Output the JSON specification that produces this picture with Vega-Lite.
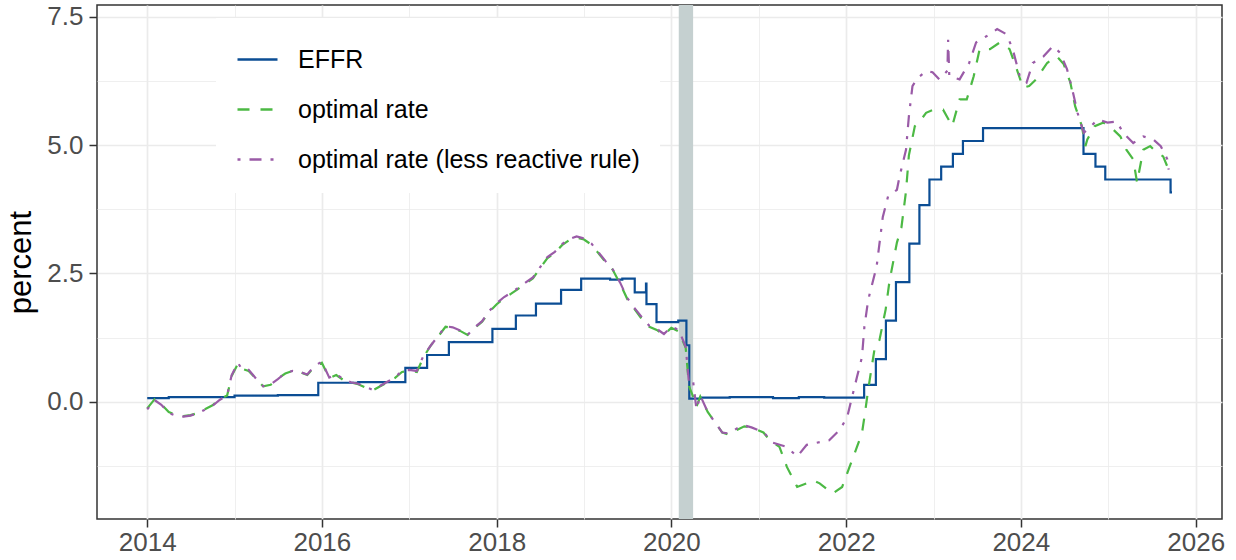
{
  "$schema": "https://vega.github.io/schema/vega-lite/v6.json",
  "width": 1125,
  "height": 514,
  "autosize": {"type": "none"},
  "padding": {"left": 97, "top": 5, "right": 14, "bottom": 41},
  "background": "white",
  "config": {
    "font": "Liberation Sans",
    "view": {"stroke": "#333333", "strokeWidth": 1.5},
    "axis": {
      "domain": false,
      "grid": true,
      "gridColor": "#EBEBEB",
      "tickColor": "#333333",
      "tickWidth": 1.5,
      "tickSize": 8,
      "labelFont": "Liberation Sans",
      "labelFontSize": 26,
      "labelColor": "#4D4D4D",
      "labelOverlap": false,
      "labelBound": false,
      "labelFlush": false
    }
  },
  "datasets": {
    "effr": [
      {"date": "2014-01-01", "series": "EFFR", "value": 0.07},
      {"date": "2014-04-01", "series": "EFFR", "value": 0.09},
      {"date": "2014-10-01", "series": "EFFR", "value": 0.09},
      {"date": "2015-01-01", "series": "EFFR", "value": 0.12},
      {"date": "2015-07-01", "series": "EFFR", "value": 0.13},
      {"date": "2015-12-17", "series": "EFFR", "value": 0.37},
      {"date": "2016-06-01", "series": "EFFR", "value": 0.38},
      {"date": "2016-12-15", "series": "EFFR", "value": 0.66},
      {"date": "2017-03-16", "series": "EFFR", "value": 0.91},
      {"date": "2017-06-15", "series": "EFFR", "value": 1.16},
      {"date": "2017-12-14", "series": "EFFR", "value": 1.42},
      {"date": "2018-03-22", "series": "EFFR", "value": 1.68},
      {"date": "2018-06-14", "series": "EFFR", "value": 1.91},
      {"date": "2018-09-27", "series": "EFFR", "value": 2.18},
      {"date": "2018-12-20", "series": "EFFR", "value": 2.40},
      {"date": "2019-04-20", "series": "EFFR", "value": 2.38},
      {"date": "2019-06-10", "series": "EFFR", "value": 2.40},
      {"date": "2019-08-01", "series": "EFFR", "value": 2.13},
      {"date": "2019-09-17", "series": "EFFR", "value": 2.30},
      {"date": "2019-09-19", "series": "EFFR", "value": 1.90},
      {"date": "2019-10-31", "series": "EFFR", "value": 1.55},
      {"date": "2020-01-30", "series": "EFFR", "value": 1.58},
      {"date": "2020-03-04", "series": "EFFR", "value": 1.10},
      {"date": "2020-03-16", "series": "EFFR", "value": 0.06},
      {"date": "2020-05-01", "series": "EFFR", "value": 0.08},
      {"date": "2020-09-01", "series": "EFFR", "value": 0.09},
      {"date": "2021-03-01", "series": "EFFR", "value": 0.07},
      {"date": "2021-06-17", "series": "EFFR", "value": 0.09},
      {"date": "2021-10-01", "series": "EFFR", "value": 0.08},
      {"date": "2022-03-17", "series": "EFFR", "value": 0.33},
      {"date": "2022-05-05", "series": "EFFR", "value": 0.83},
      {"date": "2022-06-16", "series": "EFFR", "value": 1.58},
      {"date": "2022-07-28", "series": "EFFR", "value": 2.33},
      {"date": "2022-09-22", "series": "EFFR", "value": 3.08},
      {"date": "2022-11-03", "series": "EFFR", "value": 3.83},
      {"date": "2022-12-15", "series": "EFFR", "value": 4.33},
      {"date": "2023-02-02", "series": "EFFR", "value": 4.58},
      {"date": "2023-03-23", "series": "EFFR", "value": 4.83},
      {"date": "2023-05-04", "series": "EFFR", "value": 5.08},
      {"date": "2023-07-27", "series": "EFFR", "value": 5.33},
      {"date": "2024-09-19", "series": "EFFR", "value": 4.83},
      {"date": "2024-11-08", "series": "EFFR", "value": 4.58},
      {"date": "2024-12-19", "series": "EFFR", "value": 4.33},
      {"date": "2025-09-18", "series": "EFFR", "value": 4.08},
      {"date": "2025-09-24", "series": "EFFR", "value": 4.08}
    ],
    "opt": [
      {"date": "2014-01-01", "series": "optimal rate", "value": -0.13},
      {"date": "2014-02-01", "series": "optimal rate", "value": 0.05},
      {"date": "2014-03-01", "series": "optimal rate", "value": -0.05},
      {"date": "2014-04-01", "series": "optimal rate", "value": -0.2},
      {"date": "2014-05-01", "series": "optimal rate", "value": -0.26},
      {"date": "2014-06-01", "series": "optimal rate", "value": -0.28},
      {"date": "2014-07-01", "series": "optimal rate", "value": -0.26},
      {"date": "2014-08-01", "series": "optimal rate", "value": -0.22},
      {"date": "2014-09-01", "series": "optimal rate", "value": -0.14},
      {"date": "2014-10-01", "series": "optimal rate", "value": -0.07},
      {"date": "2014-11-01", "series": "optimal rate", "value": 0.05},
      {"date": "2014-12-01", "series": "optimal rate", "value": 0.12},
      {"date": "2014-12-20", "series": "optimal rate", "value": 0.5},
      {"date": "2015-01-15", "series": "optimal rate", "value": 0.74},
      {"date": "2015-02-01", "series": "optimal rate", "value": 0.64},
      {"date": "2015-03-01", "series": "optimal rate", "value": 0.6},
      {"date": "2015-04-01", "series": "optimal rate", "value": 0.45},
      {"date": "2015-05-01", "series": "optimal rate", "value": 0.3},
      {"date": "2015-06-01", "series": "optimal rate", "value": 0.33},
      {"date": "2015-07-01", "series": "optimal rate", "value": 0.45},
      {"date": "2015-08-01", "series": "optimal rate", "value": 0.55},
      {"date": "2015-09-01", "series": "optimal rate", "value": 0.6},
      {"date": "2015-10-01", "series": "optimal rate", "value": 0.58},
      {"date": "2015-11-01", "series": "optimal rate", "value": 0.52},
      {"date": "2015-12-01", "series": "optimal rate", "value": 0.68},
      {"date": "2016-01-01", "series": "optimal rate", "value": 0.76},
      {"date": "2016-02-01", "series": "optimal rate", "value": 0.46},
      {"date": "2016-03-01", "series": "optimal rate", "value": 0.52},
      {"date": "2016-04-01", "series": "optimal rate", "value": 0.42},
      {"date": "2016-05-01", "series": "optimal rate", "value": 0.38},
      {"date": "2016-06-01", "series": "optimal rate", "value": 0.34},
      {"date": "2016-07-01", "series": "optimal rate", "value": 0.28},
      {"date": "2016-08-01", "series": "optimal rate", "value": 0.22},
      {"date": "2016-09-01", "series": "optimal rate", "value": 0.3},
      {"date": "2016-10-01", "series": "optimal rate", "value": 0.38},
      {"date": "2016-11-01", "series": "optimal rate", "value": 0.46},
      {"date": "2016-12-01", "series": "optimal rate", "value": 0.58},
      {"date": "2017-01-01", "series": "optimal rate", "value": 0.6},
      {"date": "2017-02-01", "series": "optimal rate", "value": 0.58},
      {"date": "2017-03-01", "series": "optimal rate", "value": 0.87},
      {"date": "2017-04-01", "series": "optimal rate", "value": 1.1},
      {"date": "2017-05-01", "series": "optimal rate", "value": 1.27},
      {"date": "2017-06-01", "series": "optimal rate", "value": 1.46},
      {"date": "2017-07-01", "series": "optimal rate", "value": 1.44},
      {"date": "2017-08-01", "series": "optimal rate", "value": 1.38},
      {"date": "2017-09-01", "series": "optimal rate", "value": 1.3},
      {"date": "2017-10-01", "series": "optimal rate", "value": 1.44},
      {"date": "2017-11-01", "series": "optimal rate", "value": 1.56},
      {"date": "2017-12-01", "series": "optimal rate", "value": 1.75},
      {"date": "2018-01-01", "series": "optimal rate", "value": 1.9},
      {"date": "2018-02-01", "series": "optimal rate", "value": 2.02},
      {"date": "2018-03-01", "series": "optimal rate", "value": 2.1},
      {"date": "2018-04-01", "series": "optimal rate", "value": 2.2},
      {"date": "2018-05-01", "series": "optimal rate", "value": 2.3},
      {"date": "2018-06-01", "series": "optimal rate", "value": 2.4},
      {"date": "2018-07-01", "series": "optimal rate", "value": 2.6},
      {"date": "2018-08-01", "series": "optimal rate", "value": 2.8},
      {"date": "2018-09-01", "series": "optimal rate", "value": 2.9},
      {"date": "2018-10-01", "series": "optimal rate", "value": 3.05},
      {"date": "2018-11-01", "series": "optimal rate", "value": 3.15},
      {"date": "2018-12-01", "series": "optimal rate", "value": 3.2},
      {"date": "2019-01-01", "series": "optimal rate", "value": 3.16},
      {"date": "2019-02-01", "series": "optimal rate", "value": 3.06},
      {"date": "2019-03-01", "series": "optimal rate", "value": 2.9},
      {"date": "2019-04-01", "series": "optimal rate", "value": 2.72},
      {"date": "2019-05-01", "series": "optimal rate", "value": 2.57},
      {"date": "2019-06-01", "series": "optimal rate", "value": 2.3},
      {"date": "2019-07-01", "series": "optimal rate", "value": 2.0},
      {"date": "2019-08-01", "series": "optimal rate", "value": 1.8},
      {"date": "2019-09-01", "series": "optimal rate", "value": 1.6},
      {"date": "2019-10-01", "series": "optimal rate", "value": 1.46},
      {"date": "2019-11-01", "series": "optimal rate", "value": 1.4},
      {"date": "2019-12-01", "series": "optimal rate", "value": 1.3},
      {"date": "2020-01-01", "series": "optimal rate", "value": 1.44},
      {"date": "2020-02-01", "series": "optimal rate", "value": 1.37},
      {"date": "2020-03-01", "series": "optimal rate", "value": 1.05},
      {"date": "2020-03-15", "series": "optimal rate", "value": 0.3},
      {"date": "2020-04-01", "series": "optimal rate", "value": 0.1},
      {"date": "2020-04-15", "series": "optimal rate", "value": -0.1},
      {"date": "2020-05-01", "series": "optimal rate", "value": 0.1},
      {"date": "2020-06-01", "series": "optimal rate", "value": -0.2},
      {"date": "2020-07-01", "series": "optimal rate", "value": -0.4},
      {"date": "2020-08-01", "series": "optimal rate", "value": -0.6},
      {"date": "2020-09-01", "series": "optimal rate", "value": -0.65},
      {"date": "2020-10-01", "series": "optimal rate", "value": -0.55},
      {"date": "2020-11-01", "series": "optimal rate", "value": -0.48},
      {"date": "2020-12-01", "series": "optimal rate", "value": -0.5},
      {"date": "2021-01-20", "series": "optimal rate", "value": -0.6},
      {"date": "2021-02-15", "series": "optimal rate", "value": -0.75},
      {"date": "2021-03-28", "series": "optimal rate", "value": -0.88},
      {"date": "2021-04-28", "series": "optimal rate", "value": -1.27},
      {"date": "2021-06-10", "series": "optimal rate", "value": -1.66},
      {"date": "2021-07-20", "series": "optimal rate", "value": -1.59},
      {"date": "2021-08-15", "series": "optimal rate", "value": -1.53},
      {"date": "2021-09-12", "series": "optimal rate", "value": -1.59},
      {"date": "2021-11-05", "series": "optimal rate", "value": -1.79},
      {"date": "2021-12-15", "series": "optimal rate", "value": -1.66},
      {"date": "2022-01-15", "series": "optimal rate", "value": -1.27},
      {"date": "2022-02-15", "series": "optimal rate", "value": -0.88},
      {"date": "2022-03-08", "series": "optimal rate", "value": -0.61},
      {"date": "2022-03-18", "series": "optimal rate", "value": -0.3},
      {"date": "2022-04-01", "series": "optimal rate", "value": 0.17},
      {"date": "2022-04-15", "series": "optimal rate", "value": 0.6},
      {"date": "2022-05-01", "series": "optimal rate", "value": 1.07},
      {"date": "2022-05-20", "series": "optimal rate", "value": 1.2},
      {"date": "2022-06-15", "series": "optimal rate", "value": 1.8},
      {"date": "2022-07-01", "series": "optimal rate", "value": 2.35},
      {"date": "2022-08-01", "series": "optimal rate", "value": 3.1},
      {"date": "2022-08-20", "series": "optimal rate", "value": 3.4},
      {"date": "2022-09-08", "series": "optimal rate", "value": 4.1},
      {"date": "2022-09-20", "series": "optimal rate", "value": 4.8},
      {"date": "2022-10-15", "series": "optimal rate", "value": 5.37},
      {"date": "2022-11-01", "series": "optimal rate", "value": 5.44},
      {"date": "2022-12-01", "series": "optimal rate", "value": 5.63},
      {"date": "2023-01-01", "series": "optimal rate", "value": 5.69},
      {"date": "2023-02-10", "series": "optimal rate", "value": 5.69},
      {"date": "2023-03-20", "series": "optimal rate", "value": 5.37},
      {"date": "2023-04-20", "series": "optimal rate", "value": 5.89},
      {"date": "2023-05-20", "series": "optimal rate", "value": 5.89},
      {"date": "2023-06-18", "series": "optimal rate", "value": 6.34},
      {"date": "2023-07-13", "series": "optimal rate", "value": 6.87},
      {"date": "2023-08-25", "series": "optimal rate", "value": 6.87},
      {"date": "2023-10-05", "series": "optimal rate", "value": 7.0},
      {"date": "2023-11-15", "series": "optimal rate", "value": 6.87},
      {"date": "2023-12-15", "series": "optimal rate", "value": 6.48},
      {"date": "2024-01-10", "series": "optimal rate", "value": 6.12},
      {"date": "2024-02-05", "series": "optimal rate", "value": 6.15},
      {"date": "2024-03-05", "series": "optimal rate", "value": 6.28},
      {"date": "2024-04-20", "series": "optimal rate", "value": 6.6},
      {"date": "2024-05-30", "series": "optimal rate", "value": 6.73},
      {"date": "2024-06-28", "series": "optimal rate", "value": 6.58},
      {"date": "2024-07-26", "series": "optimal rate", "value": 6.22},
      {"date": "2024-08-15", "series": "optimal rate", "value": 5.76},
      {"date": "2024-09-12", "series": "optimal rate", "value": 5.37},
      {"date": "2024-09-27", "series": "optimal rate", "value": 4.98},
      {"date": "2024-10-05", "series": "optimal rate", "value": 5.11},
      {"date": "2024-11-05", "series": "optimal rate", "value": 5.37},
      {"date": "2024-12-12", "series": "optimal rate", "value": 5.44},
      {"date": "2025-01-22", "series": "optimal rate", "value": 5.3},
      {"date": "2025-02-20", "series": "optimal rate", "value": 5.17},
      {"date": "2025-03-17", "series": "optimal rate", "value": 4.91},
      {"date": "2025-04-15", "series": "optimal rate", "value": 4.72},
      {"date": "2025-05-01", "series": "optimal rate", "value": 4.27},
      {"date": "2025-05-27", "series": "optimal rate", "value": 4.91},
      {"date": "2025-06-25", "series": "optimal rate", "value": 4.98},
      {"date": "2025-07-24", "series": "optimal rate", "value": 4.85},
      {"date": "2025-08-18", "series": "optimal rate", "value": 4.78},
      {"date": "2025-09-10", "series": "optimal rate", "value": 4.52},

      {"date": "2014-01-01", "series": "optimal rate (less reactive rule)", "value": -0.15},
      {"date": "2014-02-01", "series": "optimal rate (less reactive rule)", "value": 0.03},
      {"date": "2014-03-01", "series": "optimal rate (less reactive rule)", "value": -0.06},
      {"date": "2014-04-01", "series": "optimal rate (less reactive rule)", "value": -0.22},
      {"date": "2014-05-01", "series": "optimal rate (less reactive rule)", "value": -0.27},
      {"date": "2014-06-01", "series": "optimal rate (less reactive rule)", "value": -0.29},
      {"date": "2014-07-01", "series": "optimal rate (less reactive rule)", "value": -0.27},
      {"date": "2014-08-01", "series": "optimal rate (less reactive rule)", "value": -0.22},
      {"date": "2014-09-01", "series": "optimal rate (less reactive rule)", "value": -0.15},
      {"date": "2014-10-01", "series": "optimal rate (less reactive rule)", "value": -0.08},
      {"date": "2014-11-01", "series": "optimal rate (less reactive rule)", "value": 0.04},
      {"date": "2014-12-01", "series": "optimal rate (less reactive rule)", "value": 0.12},
      {"date": "2014-12-20", "series": "optimal rate (less reactive rule)", "value": 0.52},
      {"date": "2015-01-15", "series": "optimal rate (less reactive rule)", "value": 0.76},
      {"date": "2015-02-01", "series": "optimal rate (less reactive rule)", "value": 0.63},
      {"date": "2015-03-01", "series": "optimal rate (less reactive rule)", "value": 0.62},
      {"date": "2015-04-01", "series": "optimal rate (less reactive rule)", "value": 0.45},
      {"date": "2015-05-01", "series": "optimal rate (less reactive rule)", "value": 0.3},
      {"date": "2015-06-01", "series": "optimal rate (less reactive rule)", "value": 0.34},
      {"date": "2015-07-01", "series": "optimal rate (less reactive rule)", "value": 0.44},
      {"date": "2015-08-01", "series": "optimal rate (less reactive rule)", "value": 0.56},
      {"date": "2015-09-01", "series": "optimal rate (less reactive rule)", "value": 0.6},
      {"date": "2015-10-01", "series": "optimal rate (less reactive rule)", "value": 0.58},
      {"date": "2015-11-01", "series": "optimal rate (less reactive rule)", "value": 0.53},
      {"date": "2015-12-01", "series": "optimal rate (less reactive rule)", "value": 0.7},
      {"date": "2016-01-01", "series": "optimal rate (less reactive rule)", "value": 0.78},
      {"date": "2016-02-01", "series": "optimal rate (less reactive rule)", "value": 0.47},
      {"date": "2016-03-01", "series": "optimal rate (less reactive rule)", "value": 0.54},
      {"date": "2016-04-01", "series": "optimal rate (less reactive rule)", "value": 0.43},
      {"date": "2016-05-01", "series": "optimal rate (less reactive rule)", "value": 0.38},
      {"date": "2016-06-01", "series": "optimal rate (less reactive rule)", "value": 0.35},
      {"date": "2016-07-01", "series": "optimal rate (less reactive rule)", "value": 0.29},
      {"date": "2016-08-01", "series": "optimal rate (less reactive rule)", "value": 0.23},
      {"date": "2016-09-01", "series": "optimal rate (less reactive rule)", "value": 0.31},
      {"date": "2016-10-01", "series": "optimal rate (less reactive rule)", "value": 0.39},
      {"date": "2016-11-01", "series": "optimal rate (less reactive rule)", "value": 0.47},
      {"date": "2016-12-01", "series": "optimal rate (less reactive rule)", "value": 0.6},
      {"date": "2017-01-01", "series": "optimal rate (less reactive rule)", "value": 0.62},
      {"date": "2017-02-01", "series": "optimal rate (less reactive rule)", "value": 0.6},
      {"date": "2017-03-01", "series": "optimal rate (less reactive rule)", "value": 0.9},
      {"date": "2017-04-01", "series": "optimal rate (less reactive rule)", "value": 1.1},
      {"date": "2017-05-01", "series": "optimal rate (less reactive rule)", "value": 1.28},
      {"date": "2017-06-01", "series": "optimal rate (less reactive rule)", "value": 1.47},
      {"date": "2017-07-01", "series": "optimal rate (less reactive rule)", "value": 1.45},
      {"date": "2017-08-01", "series": "optimal rate (less reactive rule)", "value": 1.39},
      {"date": "2017-09-01", "series": "optimal rate (less reactive rule)", "value": 1.3},
      {"date": "2017-10-01", "series": "optimal rate (less reactive rule)", "value": 1.45},
      {"date": "2017-11-01", "series": "optimal rate (less reactive rule)", "value": 1.57},
      {"date": "2017-12-01", "series": "optimal rate (less reactive rule)", "value": 1.77},
      {"date": "2018-01-01", "series": "optimal rate (less reactive rule)", "value": 1.92},
      {"date": "2018-02-01", "series": "optimal rate (less reactive rule)", "value": 2.04},
      {"date": "2018-03-01", "series": "optimal rate (less reactive rule)", "value": 2.12},
      {"date": "2018-04-01", "series": "optimal rate (less reactive rule)", "value": 2.22},
      {"date": "2018-05-01", "series": "optimal rate (less reactive rule)", "value": 2.32},
      {"date": "2018-06-01", "series": "optimal rate (less reactive rule)", "value": 2.42},
      {"date": "2018-07-01", "series": "optimal rate (less reactive rule)", "value": 2.62},
      {"date": "2018-08-01", "series": "optimal rate (less reactive rule)", "value": 2.82},
      {"date": "2018-09-01", "series": "optimal rate (less reactive rule)", "value": 2.92},
      {"date": "2018-10-01", "series": "optimal rate (less reactive rule)", "value": 3.07},
      {"date": "2018-11-01", "series": "optimal rate (less reactive rule)", "value": 3.17},
      {"date": "2018-12-01", "series": "optimal rate (less reactive rule)", "value": 3.22},
      {"date": "2019-01-01", "series": "optimal rate (less reactive rule)", "value": 3.18},
      {"date": "2019-02-01", "series": "optimal rate (less reactive rule)", "value": 3.08},
      {"date": "2019-03-01", "series": "optimal rate (less reactive rule)", "value": 2.92},
      {"date": "2019-04-01", "series": "optimal rate (less reactive rule)", "value": 2.74},
      {"date": "2019-05-01", "series": "optimal rate (less reactive rule)", "value": 2.58},
      {"date": "2019-06-01", "series": "optimal rate (less reactive rule)", "value": 2.32},
      {"date": "2019-07-01", "series": "optimal rate (less reactive rule)", "value": 2.02},
      {"date": "2019-08-01", "series": "optimal rate (less reactive rule)", "value": 1.82},
      {"date": "2019-09-01", "series": "optimal rate (less reactive rule)", "value": 1.64},
      {"date": "2019-10-01", "series": "optimal rate (less reactive rule)", "value": 1.48},
      {"date": "2019-11-01", "series": "optimal rate (less reactive rule)", "value": 1.42},
      {"date": "2019-12-01", "series": "optimal rate (less reactive rule)", "value": 1.32},
      {"date": "2020-01-01", "series": "optimal rate (less reactive rule)", "value": 1.46},
      {"date": "2020-02-01", "series": "optimal rate (less reactive rule)", "value": 1.4},
      {"date": "2020-03-01", "series": "optimal rate (less reactive rule)", "value": 1.07},
      {"date": "2020-03-15", "series": "optimal rate (less reactive rule)", "value": 0.35},
      {"date": "2020-04-01", "series": "optimal rate (less reactive rule)", "value": 0.4},
      {"date": "2020-04-15", "series": "optimal rate (less reactive rule)", "value": -0.15},
      {"date": "2020-05-01", "series": "optimal rate (less reactive rule)", "value": 0.12},
      {"date": "2020-06-01", "series": "optimal rate (less reactive rule)", "value": -0.2},
      {"date": "2020-07-01", "series": "optimal rate (less reactive rule)", "value": -0.4},
      {"date": "2020-08-01", "series": "optimal rate (less reactive rule)", "value": -0.6},
      {"date": "2020-09-01", "series": "optimal rate (less reactive rule)", "value": -0.62},
      {"date": "2020-10-01", "series": "optimal rate (less reactive rule)", "value": -0.52},
      {"date": "2020-11-01", "series": "optimal rate (less reactive rule)", "value": -0.46},
      {"date": "2020-12-01", "series": "optimal rate (less reactive rule)", "value": -0.5},
      {"date": "2021-01-20", "series": "optimal rate (less reactive rule)", "value": -0.59},
      {"date": "2021-03-01", "series": "optimal rate (less reactive rule)", "value": -0.8},
      {"date": "2021-04-28", "series": "optimal rate (less reactive rule)", "value": -0.88},
      {"date": "2021-06-10", "series": "optimal rate (less reactive rule)", "value": -1.07},
      {"date": "2021-07-20", "series": "optimal rate (less reactive rule)", "value": -0.84},
      {"date": "2021-08-30", "series": "optimal rate (less reactive rule)", "value": -0.8},
      {"date": "2021-10-22", "series": "optimal rate (less reactive rule)", "value": -0.75},
      {"date": "2021-12-05", "series": "optimal rate (less reactive rule)", "value": -0.55},
      {"date": "2022-01-05", "series": "optimal rate (less reactive rule)", "value": -0.3},
      {"date": "2022-01-26", "series": "optimal rate (less reactive rule)", "value": 0.1},
      {"date": "2022-02-15", "series": "optimal rate (less reactive rule)", "value": 0.48},
      {"date": "2022-03-08", "series": "optimal rate (less reactive rule)", "value": 0.87},
      {"date": "2022-03-18", "series": "optimal rate (less reactive rule)", "value": 1.46},
      {"date": "2022-04-01", "series": "optimal rate (less reactive rule)", "value": 1.92},
      {"date": "2022-04-08", "series": "optimal rate (less reactive rule)", "value": 2.08},
      {"date": "2022-05-08", "series": "optimal rate (less reactive rule)", "value": 2.63},
      {"date": "2022-06-03", "series": "optimal rate (less reactive rule)", "value": 3.6},
      {"date": "2022-06-25", "series": "optimal rate (less reactive rule)", "value": 4.0},
      {"date": "2022-08-01", "series": "optimal rate (less reactive rule)", "value": 4.13},
      {"date": "2022-08-12", "series": "optimal rate (less reactive rule)", "value": 4.39},
      {"date": "2022-09-08", "series": "optimal rate (less reactive rule)", "value": 4.91},
      {"date": "2022-09-20", "series": "optimal rate (less reactive rule)", "value": 5.56},
      {"date": "2022-10-05", "series": "optimal rate (less reactive rule)", "value": 6.15},
      {"date": "2022-10-27", "series": "optimal rate (less reactive rule)", "value": 6.31},
      {"date": "2022-12-01", "series": "optimal rate (less reactive rule)", "value": 6.44},
      {"date": "2022-12-28", "series": "optimal rate (less reactive rule)", "value": 6.42},
      {"date": "2023-01-25", "series": "optimal rate (less reactive rule)", "value": 6.28},
      {"date": "2023-02-28", "series": "optimal rate (less reactive rule)", "value": 6.45},
      {"date": "2023-03-03", "series": "optimal rate (less reactive rule)", "value": 7.05},
      {"date": "2023-03-08", "series": "optimal rate (less reactive rule)", "value": 6.34},
      {"date": "2023-04-20", "series": "optimal rate (less reactive rule)", "value": 6.28},
      {"date": "2023-05-30", "series": "optimal rate (less reactive rule)", "value": 6.6},
      {"date": "2023-06-28", "series": "optimal rate (less reactive rule)", "value": 7.0},
      {"date": "2023-08-10", "series": "optimal rate (less reactive rule)", "value": 7.12},
      {"date": "2023-09-24", "series": "optimal rate (less reactive rule)", "value": 7.26},
      {"date": "2023-11-02", "series": "optimal rate (less reactive rule)", "value": 7.16},
      {"date": "2023-11-28", "series": "optimal rate (less reactive rule)", "value": 6.87},
      {"date": "2023-12-28", "series": "optimal rate (less reactive rule)", "value": 6.34},
      {"date": "2024-01-25", "series": "optimal rate (less reactive rule)", "value": 6.22},
      {"date": "2024-02-20", "series": "optimal rate (less reactive rule)", "value": 6.6},
      {"date": "2024-04-05", "series": "optimal rate (less reactive rule)", "value": 6.73},
      {"date": "2024-05-15", "series": "optimal rate (less reactive rule)", "value": 6.93},
      {"date": "2024-06-13", "series": "optimal rate (less reactive rule)", "value": 6.8},
      {"date": "2024-07-12", "series": "optimal rate (less reactive rule)", "value": 6.48},
      {"date": "2024-08-03", "series": "optimal rate (less reactive rule)", "value": 6.09},
      {"date": "2024-08-25", "series": "optimal rate (less reactive rule)", "value": 5.63},
      {"date": "2024-09-20", "series": "optimal rate (less reactive rule)", "value": 5.24},
      {"date": "2024-10-20", "series": "optimal rate (less reactive rule)", "value": 5.37},
      {"date": "2024-11-18", "series": "optimal rate (less reactive rule)", "value": 5.5},
      {"date": "2024-12-28", "series": "optimal rate (less reactive rule)", "value": 5.44},
      {"date": "2025-02-06", "series": "optimal rate (less reactive rule)", "value": 5.46},
      {"date": "2025-03-03", "series": "optimal rate (less reactive rule)", "value": 5.24},
      {"date": "2025-04-15", "series": "optimal rate (less reactive rule)", "value": 5.04},
      {"date": "2025-05-27", "series": "optimal rate (less reactive rule)", "value": 5.17},
      {"date": "2025-07-08", "series": "optimal rate (less reactive rule)", "value": 5.11},
      {"date": "2025-08-08", "series": "optimal rate (less reactive rule)", "value": 4.98},
      {"date": "2025-09-05", "series": "optimal rate (less reactive rule)", "value": 4.72},
      {"date": "2025-09-10", "series": "optimal rate (less reactive rule)", "value": 4.52}
    ],
    "recession": [
      {"start": "2020-02-01", "end": "2020-04-01"}
    ]
  },
  "layer": [
    {
      "data": {"name": "recession"},
      "mark": {"type": "rect", "color": "#C5D0D0"},
      "encoding": {
        "x": {
          "field": "start", "type": "temporal", "title": null,
          "scale": {
            "type": "utc",
            "domain": [
              {"year": 2013, "month": 6, "date": 5, "utc": true},
              {"year": 2026, "month": 4, "date": 21, "utc": true}
            ]
          },
          "axis": {
            "title": null,
            "grid": true,
            "values": [
              {"year": 2014, "utc": true}, {"year": 2015, "utc": true}, {"year": 2016, "utc": true},
              {"year": 2017, "utc": true}, {"year": 2018, "utc": true}, {"year": 2019, "utc": true},
              {"year": 2020, "utc": true}, {"year": 2021, "utc": true}, {"year": 2022, "utc": true},
              {"year": 2023, "utc": true}, {"year": 2024, "utc": true}, {"year": 2025, "utc": true},
              {"year": 2026, "utc": true}
            ],
            "labelExpr": "utcyear(datum.value) % 2 == 0 ? utcFormat(datum.value, '%Y') : ''",
            "labelPadding": 2,
            "gridWidth": {"condition": {"test": "utcyear(datum.value) % 2 == 0", "value": 1.7}, "value": 0.8},
            "tickOpacity": {"condition": {"test": "utcyear(datum.value) % 2 == 0", "value": 1}, "value": 0}
          }
        },
        "x2": {"field": "end"}
      }
    },
    {
      "mark": {"type": "rule", "color": "black", "strokeWidth": 2},
      "encoding": {
        "y": {
          "datum": 0, "type": "quantitative",
          "scale": {"domain": [-2.285, 7.73], "nice": false, "zero": false},
          "axis": {
            "title": "percent",
            "grid": true,
            "titleFont": "Liberation Sans",
            "titleFontSize": 31,
            "titleFontWeight": "normal",
            "titleColor": "black",
            "titlePadding": 9,
            "values": [-1.25, 0, 1.25, 2.5, 3.75, 5, 6.25, 7.5],
            "labelExpr": "datum.value % 2.5 == 0 ? format(datum.value, '.1f') : ''",
            "labelPadding": 6,
            "gridWidth": {"condition": {"test": "datum.value % 2.5 == 0", "value": 1.7}, "value": 0.8},
            "tickOpacity": {"condition": {"test": "datum.value % 2.5 == 0", "value": 1}, "value": 0}
          }
        }
      }
    },
    {
      "data": {"name": "effr"},
      "mark": {"type": "line", "interpolate": "step-after", "strokeWidth": 2.2},
      "encoding": {
        "x": {"field": "date", "type": "temporal", "title": null},
        "y": {"field": "value", "type": "quantitative", "title": "percent"},
        "color": {
          "field": "series", "type": "nominal", "title": null,
          "scale": {
            "domain": ["EFFR", "optimal rate", "optimal rate (less reactive rule)"],
            "range": ["#0B4D94", "#4CB944", "#9A5BA7"]
          },
          "legend": {
            "orient": "none", "legendX": 119, "legendY": 13,
            "fillColor": "white", "padding": 20,
            "symbolType": "stroke", "symbolSize": 1600, "symbolStrokeWidth": 2.6,
            "labelFont": "Liberation Sans", "labelFontSize": 25, "labelColor": "black",
            "labelOffset": 19, "rowPadding": 15, "labelLimit": 500
          }
        },
        "strokeDash": {
          "field": "series", "type": "nominal", "title": null,
          "scale": {
            "domain": ["EFFR", "optimal rate", "optimal rate (less reactive rule)"],
            "range": [[1, 0], [12, 11], [3, 9, 12, 9]]
          },
          "legend": {
            "orient": "none", "legendX": 119, "legendY": 13,
            "fillColor": "white", "padding": 20,
            "symbolType": "stroke", "symbolSize": 1600, "symbolStrokeWidth": 2.6,
            "labelFont": "Liberation Sans", "labelFontSize": 25, "labelColor": "black",
            "labelOffset": 19, "rowPadding": 15, "labelLimit": 500
          }
        }
      }
    },
    {
      "data": {"name": "opt"},
      "mark": {"type": "line", "strokeWidth": 2.2},
      "encoding": {
        "x": {"field": "date", "type": "temporal", "title": null},
        "y": {"field": "value", "type": "quantitative", "title": "percent"},
        "color": {"field": "series", "type": "nominal", "title": null},
        "strokeDash": {"field": "series", "type": "nominal", "title": null}
      }
    }
  ]
}
